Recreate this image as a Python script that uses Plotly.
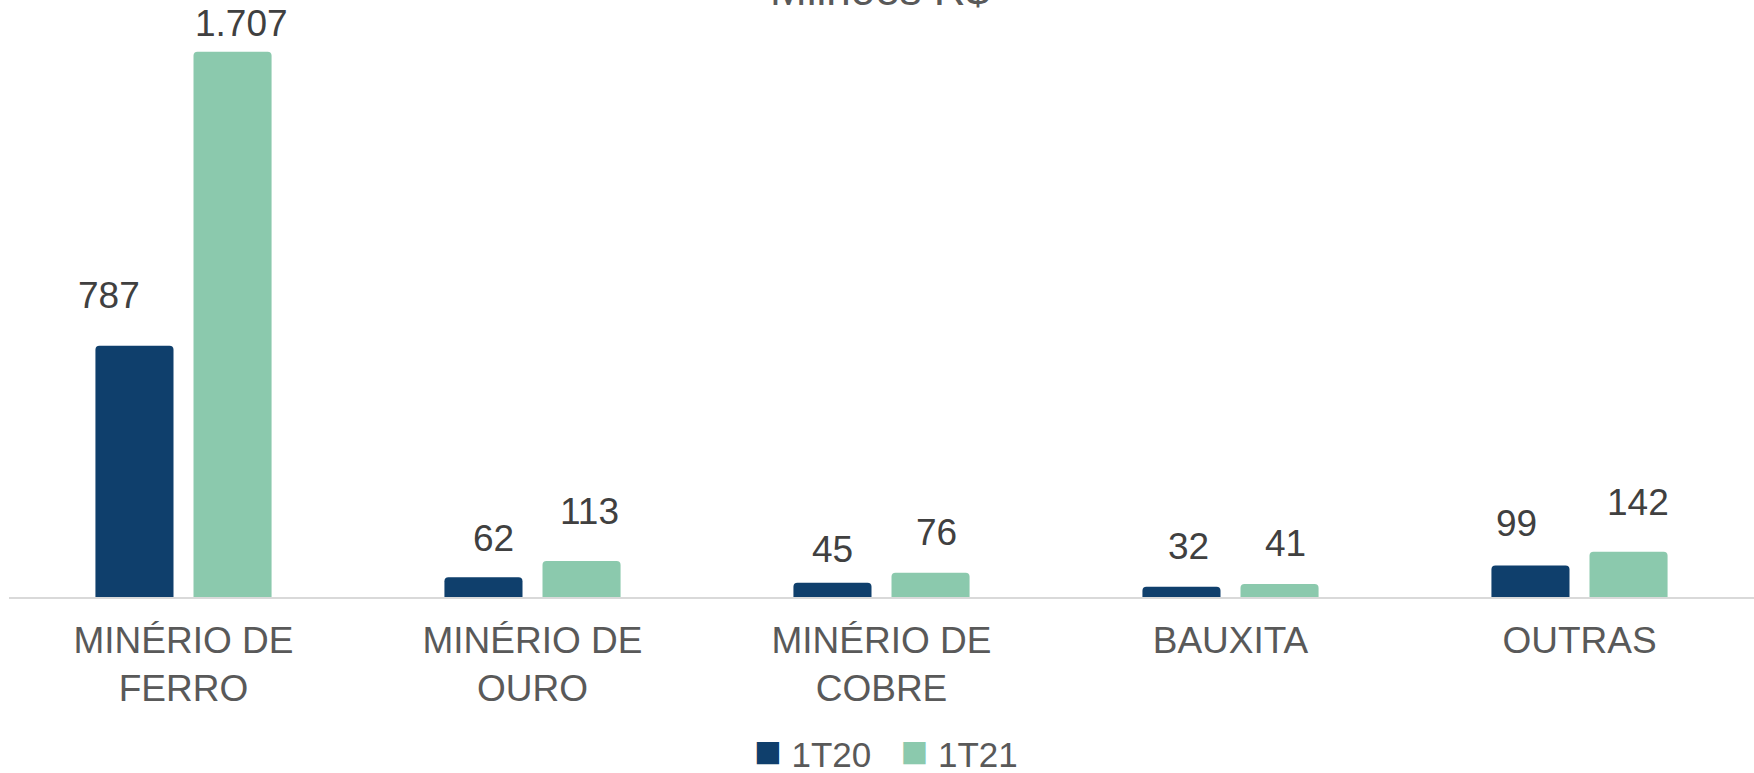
import plotly.graph_objects as go

categories = ["MINÉRIO DE<br>FERRO", "MINÉRIO DE<br>OURO", "MINÉRIO DE<br>COBRE", "BAUXITA", "OUTRAS"]
series_names = ["1T20", "1T21"]
values_1t20 = [787, 62, 45, 32, 99]
values_1t21 = [1707, 113, 76, 41, 142]
label_1t20 = ["787", "62", "45", "32", "99"]
label_1t21 = ["1.707", "113", "76", "41", "142"]
title_text = "Milhões R$"

# styles
colors = ["#0F3F6C", "#8BC9AD"]
font_family = "Liberation Sans, Arial, sans-serif"
gap_1t20 = [37, 25, 20, 27, 28]
gap_1t21 = [15, 36, 27, 27, 36]
xshift_1t20 = [-26, 10, 0, 7, -14]
xshift_1t21 = [9, 8, 6, 6, 9]

fig = go.Figure()
for name, vals, col in zip(series_names, [values_1t20, values_1t21], colors):
    fig.add_trace(go.Bar(
        x=categories, y=vals, name=name, marker=dict(color=col, cornerradius=4, line=dict(width=0)),
        showlegend=False, hoverinfo="skip",
    ))

annotations = []
for i, cat in enumerate(categories):
    annotations.append(dict(
        x=cat, y=values_1t20[i], xref="x", yref="y", text=label_1t20[i],
        showarrow=False, yanchor="bottom", xanchor="center",
        xshift=-49 + xshift_1t20[i], yshift=gap_1t20[i] - 9,
        font=dict(size=37, color="#404040", family=font_family),
    ))
    annotations.append(dict(
        x=cat, y=values_1t21[i], xref="x", yref="y", text=label_1t21[i],
        showarrow=False, yanchor="bottom", xanchor="center",
        xshift=49 + xshift_1t21[i], yshift=gap_1t21[i] - 9,
        font=dict(size=37, color="#404040", family=font_family),
    ))
annotations.append(dict(
    x=0.5, y=1.0436, xref="paper", yref="paper", text=title_text, showarrow=False,
    yanchor="bottom", xanchor="center", xshift=-2,
    font=dict(size=44, color="#595959", family=font_family),
))
# legend (drawn as text with coloured squares)
legend_text = "&nbsp;&nbsp;&nbsp;".join(
    f"<span style='color:{c};font-size:46px'>■</span> {n}" for n, c in zip(series_names, colors)
)
annotations.append(dict(
    x=0.5026, y=-0.226, xref="paper", yref="paper", text=legend_text, showarrow=False,
    yanchor="top", xanchor="center",
    font=dict(size=35, color="#595959", family=font_family),
))

fig.update_layout(
    width=1754, height=773,
    margin=dict(l=9, r=0, t=40, b=176, autoexpand=False),
    paper_bgcolor="white", plot_bgcolor="white",
    barmode="group", bargap=0.438, bargroupgap=0.204,
    font=dict(family=font_family, color="#595959"),
    xaxis=dict(showline=True, linecolor="#D9D9D9", linewidth=1.5, showgrid=False, automargin=False,
               ticks="", ticklabelstandoff=10, tickfont=dict(size=37, color="#595959"),
               fixedrange=True),
    yaxis=dict(visible=False, range=[0, 1744], showgrid=False, zeroline=False, automargin=False,
               fixedrange=True),
    annotations=annotations,
    showlegend=False,
)

fig.write_html("out.html", config={"displayModeBar": False},
               post_script="document.body.style.margin='0';")
